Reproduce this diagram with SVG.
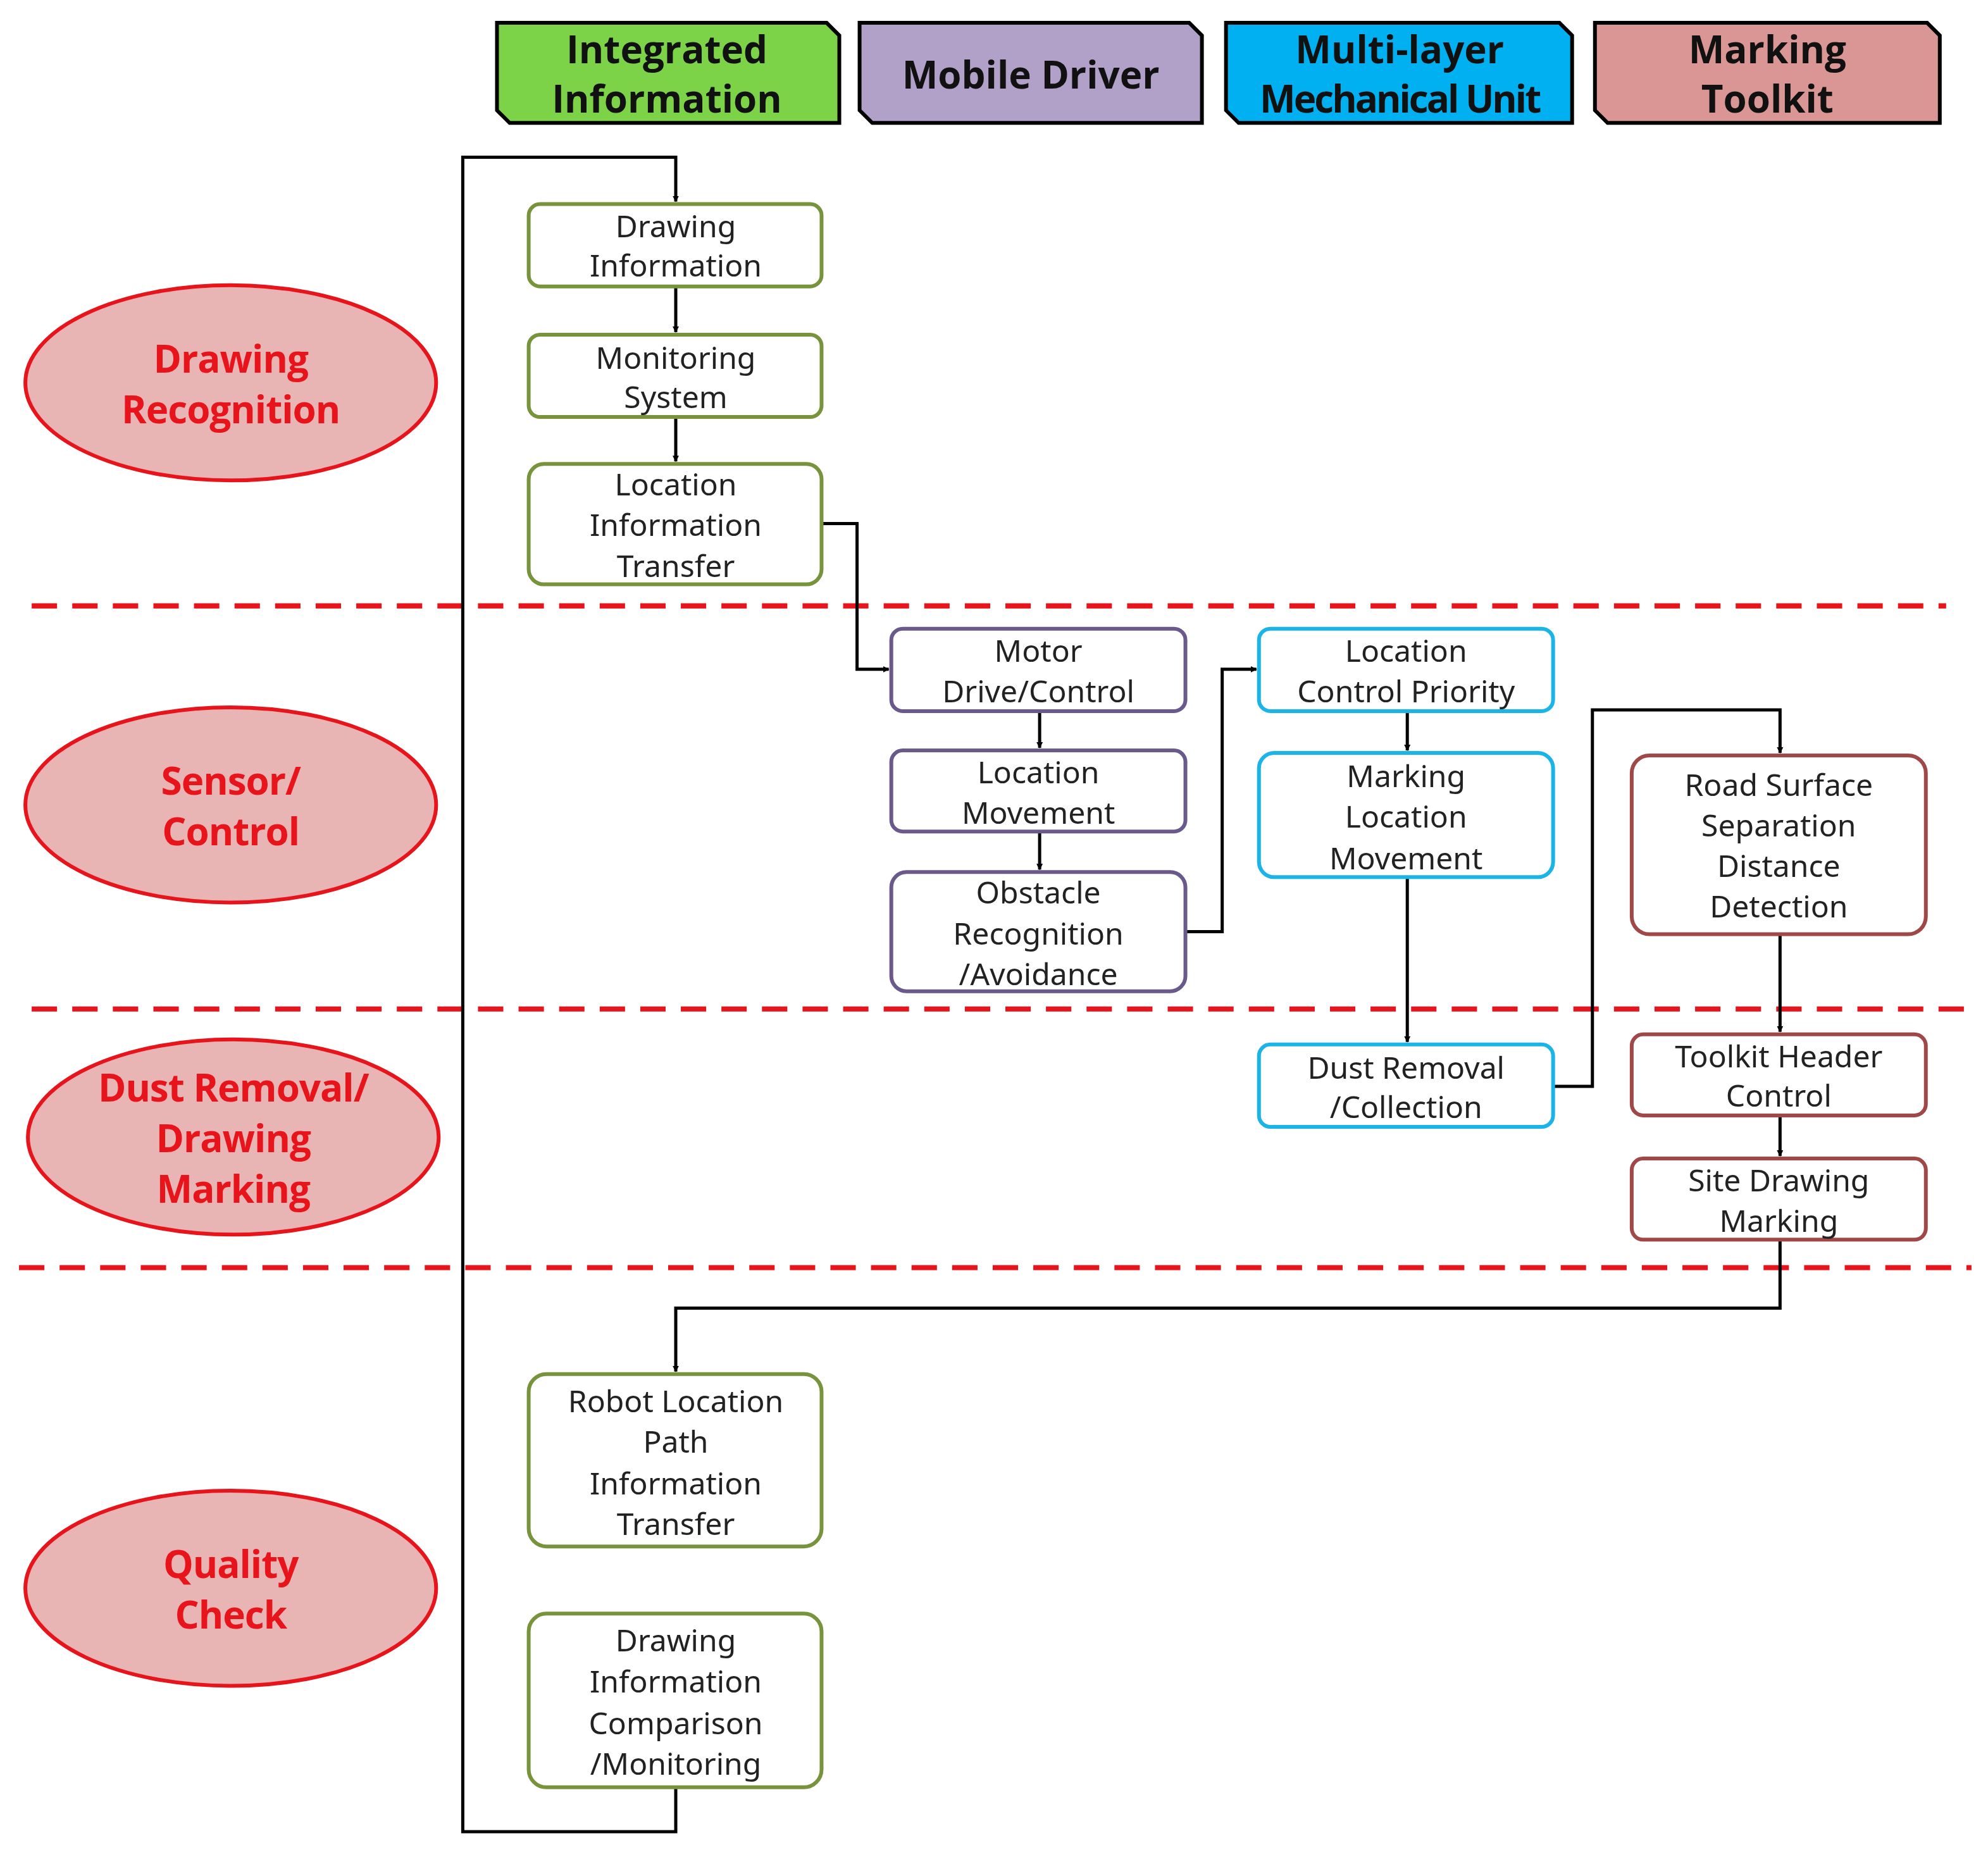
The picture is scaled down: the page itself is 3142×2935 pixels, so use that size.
<svg xmlns="http://www.w3.org/2000/svg" width="3142" height="2935" viewBox="0 0 3142 2935">
<defs>
<marker id="ah" viewBox="0 0 10 10" refX="9" refY="5" markerWidth="5" markerHeight="5" orient="auto" markerUnits="userSpaceOnUse"><path d="M0,0 L10,5 L0,10 z" fill="#000"/></marker>
<style>
.hd{stroke:#000;stroke-width:3}
.ht{font-family:"Open Sans","Noto Sans",sans-serif;font-weight:bold;font-size:30px;fill:#111;text-anchor:middle}
.el{fill:#e8b4b4;stroke:#e8141c;stroke-width:3}
.et{font-family:"Open Sans","Noto Sans",sans-serif;font-weight:bold;font-size:30px;fill:#e8141c;text-anchor:middle;letter-spacing:-0.5px}
.dl{stroke:#e8141c;stroke-width:4;stroke-dasharray:20,12}
.n{fill:#fff;stroke-width:3}
.g{stroke:#77933c}.p{stroke:#6a5a8c}.b{stroke:#1ab4e8}.r{stroke:#a04848}
.nt{font-family:"Noto Sans","Open Sans",sans-serif;font-size:24px;fill:#222;text-anchor:middle}
.c{fill:none;stroke:#000;stroke-width:2.5}
</style>
</defs>
<rect width="3142" height="2935" fill="#fff"/>
<g transform="scale(2.0038,2.0034)">
<g id="headers">
<path class="hd" d="M392,18 H652 L662,28 V97 H402 L392,87 Z" fill="#7dd348"/>
<text class="ht" x="526" y="50">Integrated</text><text class="ht" x="526" y="89">Information</text>
<path class="hd" d="M678,18 H938 L948,28 V97 H688 L678,87 Z" fill="#b1a0c7"/>
<text class="ht" x="813" y="70">Mobile Driver</text>
<path class="hd" d="M967,18 H1230 L1240,28 V97 H977 L967,87 Z" fill="#00b0f0"/>
<text class="ht" x="1104" y="50">Multi-layer</text><text class="ht" x="1104" y="89" letter-spacing="-1.5">Mechanical Unit</text>
<path class="hd" d="M1258,18 H1520 L1530,28 V97 H1268 L1258,87 Z" fill="#da9694"/>
<text class="ht" x="1394" y="50">Marking</text><text class="ht" x="1394" y="89">Toolkit</text>
</g>
<g id="phases">
<ellipse class="el" cx="182" cy="302" rx="162" ry="77"/>
<text class="et" x="182" y="294">Drawing</text><text class="et" x="182" y="334">Recognition</text>
<ellipse class="el" cx="182" cy="635" rx="162" ry="77"/>
<text class="et" x="182" y="627">Sensor/</text><text class="et" x="182" y="667">Control</text>
<ellipse class="el" cx="184" cy="897" rx="162" ry="77"/>
<text class="et" x="184" y="869" letter-spacing="-2">Dust Removal/</text><text class="et" x="184" y="909">Drawing</text><text class="et" x="184" y="949">Marking</text>
<ellipse class="el" cx="182" cy="1253" rx="162" ry="77"/>
<text class="et" x="182" y="1245">Quality</text><text class="et" x="182" y="1285">Check</text>
<line class="dl" x1="25" y1="478" x2="1535" y2="478"/>
<line class="dl" x1="25" y1="796" x2="1555" y2="796"/>
<line class="dl" x1="15" y1="1000" x2="1555" y2="1000"/>
</g>
<g id="connectors">
<path class="c" d="M533,1410 V1445 H365 V124 H533 V159" marker-end="url(#ah)"/>
<path class="c" d="M533,226 V262" marker-end="url(#ah)"/>
<path class="c" d="M533,329 V364" marker-end="url(#ah)"/>
<path class="c" d="M648,413 H676 V528 H701" marker-end="url(#ah)"/>
<path class="c" d="M820,561 V590" marker-end="url(#ah)"/>
<path class="c" d="M820,656 V686" marker-end="url(#ah)"/>
<path class="c" d="M935,735 H964 V528 H991" marker-end="url(#ah)"/>
<path class="c" d="M1110,561 V592" marker-end="url(#ah)"/>
<path class="c" d="M1110,692 V822" marker-end="url(#ah)"/>
<path class="c" d="M1225,857 H1256 V560 H1404 V594" marker-end="url(#ah)"/>
<path class="c" d="M1404,737 V814" marker-end="url(#ah)"/>
<path class="c" d="M1404,880 V912" marker-end="url(#ah)"/>
<path class="c" d="M1404,978 V1032 H533 V1082" marker-end="url(#ah)"/>
</g>
<g id="n1"><rect class="n g" x="417" y="161" width="231" height="65" rx="9"/><text class="nt" x="533" y="187">Drawing</text><text class="nt" x="533" y="218">Information</text></g>
<g id="n2"><rect class="n g" x="417" y="264" width="231" height="65" rx="9"/><text class="nt" x="533" y="291">Monitoring</text><text class="nt" x="533" y="322">System</text></g>
<g id="n3"><rect class="n g" x="417" y="366" width="231" height="95" rx="12"/><text class="nt" x="533" y="391">Location</text><text class="nt" x="533" y="423">Information</text><text class="nt" x="533" y="455">Transfer</text></g>
<g id="n4"><rect class="n p" x="703" y="496" width="232" height="65" rx="9"/><text class="nt" x="819" y="522">Motor</text><text class="nt" x="819" y="554">Drive/Control</text></g>
<g id="n5"><rect class="n p" x="703" y="592" width="232" height="64" rx="9"/><text class="nt" x="819" y="618">Location</text><text class="nt" x="819" y="650">Movement</text></g>
<g id="n6"><rect class="n p" x="703" y="688" width="232" height="94" rx="12"/><text class="nt" x="819" y="713">Obstacle</text><text class="nt" x="819" y="745">Recognition</text><text class="nt" x="819" y="777">/Avoidance</text></g>
<g id="n7"><rect class="n b" x="993" y="496" width="232" height="65" rx="9"/><text class="nt" x="1109" y="522">Location</text><text class="nt" x="1109" y="554">Control Priority</text></g>
<g id="n8"><rect class="n b" x="993" y="594" width="232" height="98" rx="12"/><text class="nt" x="1109" y="621">Marking</text><text class="nt" x="1109" y="653">Location</text><text class="nt" x="1109" y="686">Movement</text></g>
<g id="n9"><rect class="n b" x="993" y="824" width="232" height="65" rx="9"/><text class="nt" x="1109" y="851">Dust Removal</text><text class="nt" x="1109" y="882">/Collection</text></g>
<g id="n10"><rect class="n r" x="1287" y="596" width="232" height="141" rx="14"/><text class="nt" x="1403" y="628">Road Surface</text><text class="nt" x="1403" y="660">Separation</text><text class="nt" x="1403" y="692">Distance</text><text class="nt" x="1403" y="724">Detection</text></g>
<g id="n11"><rect class="n r" x="1287" y="816" width="232" height="64" rx="9"/><text class="nt" x="1403" y="842">Toolkit Header</text><text class="nt" x="1403" y="873">Control</text></g>
<g id="n12"><rect class="n r" x="1287" y="914" width="232" height="64" rx="9"/><text class="nt" x="1403" y="940">Site Drawing</text><text class="nt" x="1403" y="972">Marking</text></g>
<g id="n13"><rect class="n g" x="417" y="1084" width="231" height="136" rx="14"/><text class="nt" x="533" y="1114">Robot Location</text><text class="nt" x="533" y="1146">Path</text><text class="nt" x="533" y="1179">Information</text><text class="nt" x="533" y="1211">Transfer</text></g>
<g id="n14"><rect class="n g" x="417" y="1273" width="231" height="137" rx="14"/><text class="nt" x="533" y="1303">Drawing</text><text class="nt" x="533" y="1335">Information</text><text class="nt" x="533" y="1368">Comparison</text><text class="nt" x="533" y="1400">/Monitoring</text></g>
</g>
</svg>
